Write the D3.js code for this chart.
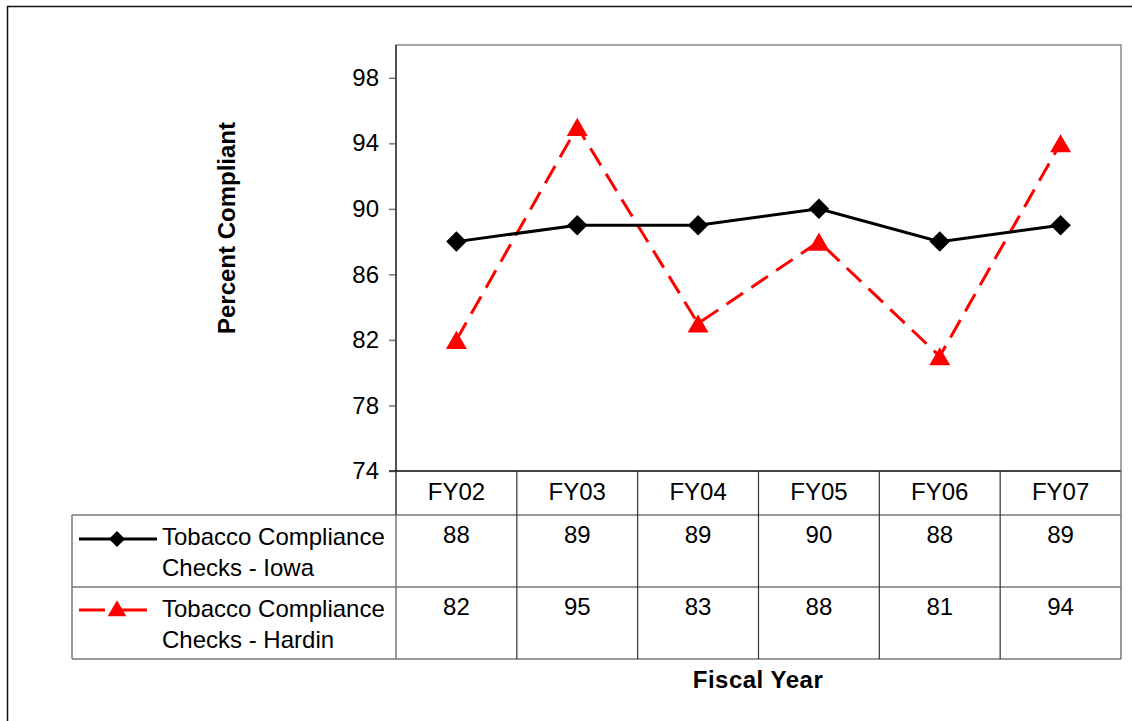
<!DOCTYPE html>
<html>
<head>
<meta charset="utf-8">
<script src="https://cdn.jsdelivr.net/npm/d3@7"></script>
<style>
  html, body { margin: 0; padding: 0; background: #fff; }
  svg { display: block; font-family: "Liberation Sans", Arial, sans-serif; }
</style>
</head>
<body>
<svg id="chart" width="1132" height="721"></svg>
<script>
// Fiscal years and compliance percentages
const years = ["FY02", "FY03", "FY04", "FY05", "FY06", "FY07"];
const iowaValues = [88, 89, 89, 90, 88, 89];
const hardinValues = [82, 95, 83, 88, 81, 94];
const seriesNames = [
  ["Tobacco Compliance", "Checks - Iowa"],
  ["Tobacco Compliance", "Checks - Hardin"]
];
const yTicks = [74, 78, 82, 86, 90, 94, 98];
const yDomain = [74, 100];

const FS = 24; // base font size

const svg = d3.select("#chart");

// Outer frame
svg.append("rect")
  .attr("x", 7.5).attr("y", 6.5)
  .attr("width", 1140).attr("height", 730)
  .attr("fill", "none").attr("stroke", "#111").attr("stroke-width", 1.5);

const plot = { left: 396, right: 1121, top: 45, bottom: 471 };
const tableLeft = 72;
const rowH = [44, 72, 72]; // header row, Iowa row, Hardin row

const x = d3.scaleBand().domain(years).range([plot.left, plot.right]);
const y = d3.scaleLinear().domain(yDomain).range([plot.bottom, plot.top]);

// Plot frame
svg.append("rect")
  .attr("x", plot.left).attr("y", plot.top)
  .attr("width", plot.right - plot.left).attr("height", plot.bottom - plot.top)
  .attr("fill", "none").attr("stroke", "#8a8a8a").attr("stroke-width", 1.5);

// Y axis
const yAxis = d3.axisLeft(y).tickValues(yTicks).tickSize(7).tickPadding(10);
const gy = svg.append("g").attr("transform", `translate(${plot.left},0)`).call(yAxis);
gy.attr("font-size", null).attr("font-family", null);
gy.select(".domain").remove();
gy.selectAll(".tick line").attr("stroke", "#777").attr("stroke-width", 1.5);
gy.selectAll(".tick text").attr("font-size", FS).attr("fill", "#000");
svg.append("line")
  .attr("x1", plot.left).attr("x2", plot.left)
  .attr("y1", plot.top).attr("y2", plot.bottom + rowH[0])
  .attr("stroke", "#333").attr("stroke-width", 1.5);

// Y axis title
svg.append("text")
  .attr("transform", "translate(235,228) rotate(-90)")
  .attr("text-anchor", "middle")
  .attr("font-size", FS).attr("font-weight", "bold")
  .text("Percent Compliant");

// Data table
const rowY0 = plot.bottom;
const rowY1 = rowY0 + rowH[0];
const rowY2 = rowY1 + rowH[1];
const rowY3 = rowY2 + rowH[2];
const tbl = svg.append("g");
const lineColor = "#333";

// Horizontal lines
tbl.append("line").attr("x1", plot.left - 7).attr("x2", plot.right).attr("y1", rowY0).attr("y2", rowY0)
  .attr("stroke", "#222").attr("stroke-width", 1.5);
[rowY1, rowY2].forEach(yy => tbl.append("line")
  .attr("x1", tableLeft).attr("x2", plot.right).attr("y1", yy).attr("y2", yy)
  .attr("stroke", lineColor).attr("stroke-width", 1.2));
tbl.append("line").attr("x1", tableLeft).attr("x2", plot.right).attr("y1", rowY3).attr("y2", rowY3)
  .attr("stroke", "#777").attr("stroke-width", 1.5);
// Vertical lines
tbl.append("line").attr("x1", tableLeft).attr("x2", tableLeft).attr("y1", rowY1).attr("y2", rowY3)
  .attr("stroke", "#777").attr("stroke-width", 1.5);
tbl.append("line").attr("x1", plot.left).attr("x2", plot.left).attr("y1", rowY1).attr("y2", rowY3)
  .attr("stroke", "#777").attr("stroke-width", 1.5);
years.slice(1).forEach(c => tbl.append("line")
  .attr("x1", x(c)).attr("x2", x(c)).attr("y1", rowY0).attr("y2", rowY3)
  .attr("stroke", lineColor).attr("stroke-width", 1.2));
tbl.append("line").attr("x1", plot.right).attr("x2", plot.right).attr("y1", rowY0).attr("y2", rowY3)
  .attr("stroke", "#777").attr("stroke-width", 1.5);

// Header labels
tbl.selectAll("text.hdr").data(years).join("text")
  .attr("class", "hdr")
  .attr("x", d => x(d) + x.bandwidth() / 2)
  .attr("y", rowY0 + 29)
  .attr("text-anchor", "middle").attr("font-size", FS)
  .text(d => d);

// Value rows
[iowaValues, hardinValues].forEach((vals, i) => {
  const top = i === 0 ? rowY1 : rowY2;
  tbl.selectAll(`text.v${i}`).data(vals).join("text")
    .attr("class", `v${i}`)
    .attr("x", (d, j) => x(years[j]) + x.bandwidth() / 2)
    .attr("y", top + 28)
    .attr("text-anchor", "middle").attr("font-size", FS)
    .text(d => d);
  seriesNames[i].forEach((ln, k) => tbl.append("text")
    .attr("x", 162).attr("y", top + 30 + k * 31)
    .attr("font-size", FS)
    .text(ln));
});

// Marker shapes
const diamond = d3.symbol().type(d3.symbolSquare).size(210);
const triangle = d3.symbol().type(d3.symbolTriangle).size(190);

// Legend keys
const k1y = rowY1 + 24, k2y = rowY2 + 23;
tbl.append("line").attr("x1", 79).attr("x2", 157).attr("y1", k1y).attr("y2", k1y)
  .attr("stroke", "#000").attr("stroke-width", 3);
tbl.append("path").attr("d", d3.symbol().type(d3.symbolSquare).size(130)())
  .attr("transform", `translate(117,${k1y}) rotate(45)`).attr("fill", "#000");
tbl.append("line").attr("x1", 79).attr("x2", 105).attr("y1", k2y).attr("y2", k2y)
  .attr("stroke", "#ff0000").attr("stroke-width", 3);
tbl.append("line").attr("x1", 113).attr("x2", 147).attr("y1", k2y).attr("y2", k2y)
  .attr("stroke", "#ff0000").attr("stroke-width", 3);
tbl.append("path").attr("d", d3.symbol().type(d3.symbolTriangle).size(150)())
  .attr("transform", `translate(117,${k2y + 1})`).attr("fill", "#ff0000");

// Series lines
const cx = (d, i) => x(years[i]) + x.bandwidth() / 2;
const line = d3.line().x(cx).y(d => y(d));

svg.append("path").datum(hardinValues)
  .attr("d", line).attr("fill", "none")
  .attr("stroke", "#ff0000").attr("stroke-width", 3)
  .attr("stroke-dasharray", "20,10");
svg.append("path").datum(iowaValues)
  .attr("d", line).attr("fill", "none")
  .attr("stroke", "#000").attr("stroke-width", 3);

// Markers
svg.selectAll("path.tri").data(hardinValues).join("path")
  .attr("class", "tri")
  .attr("d", triangle())
  .attr("transform", (d, i) => `translate(${cx(d, i)},${y(d) + 3})`)
  .attr("fill", "#ff0000");
svg.selectAll("path.dia").data(iowaValues).join("path")
  .attr("class", "dia")
  .attr("d", diamond())
  .attr("transform", (d, i) => `translate(${cx(d, i)},${y(d)}) rotate(45)`)
  .attr("fill", "#000");

// X axis title
svg.append("text")
  .attr("x", 758).attr("y", 688)
  .attr("text-anchor", "middle")
  .attr("font-size", FS).attr("font-weight", "bold")
  .style("letter-spacing", "0.5px")
  .text("Fiscal Year");
</script>
</body>
</html>
